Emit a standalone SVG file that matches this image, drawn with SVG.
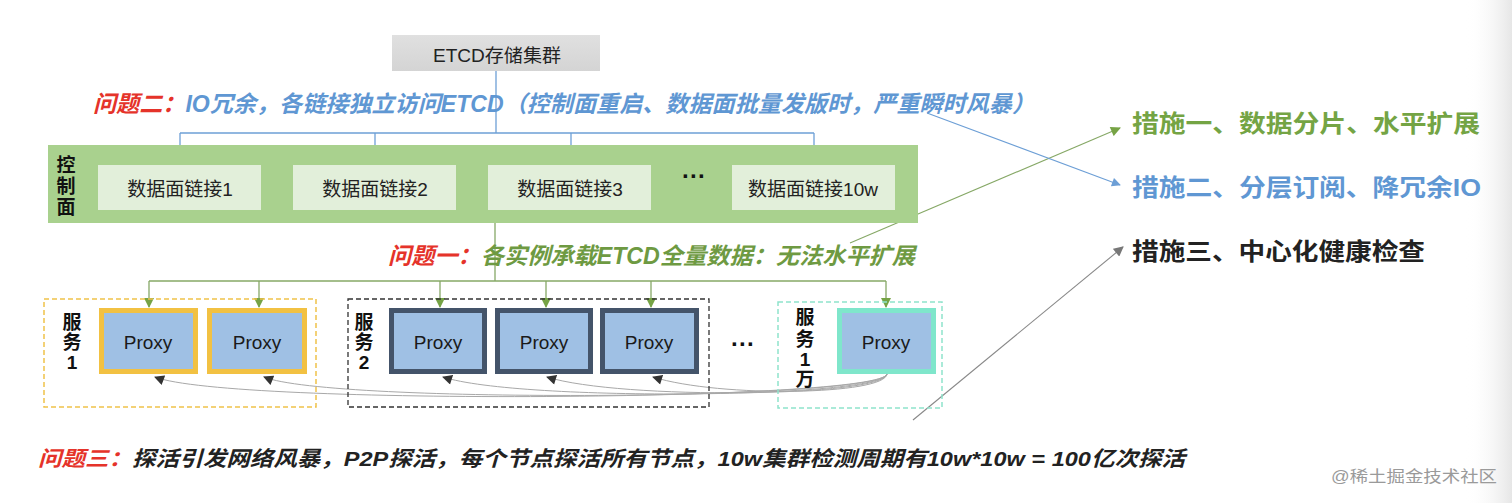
<svg xmlns="http://www.w3.org/2000/svg" width="1512" height="503" viewBox="0 0 1512 503">
<defs>
<linearGradient id="edge" x1="0" y1="0" x2="1" y2="0"><stop offset="0" stop-color="#ffffff" stop-opacity="0"/><stop offset="1" stop-color="#e6e6e6"/></linearGradient>
<linearGradient id="etcdg" x1="0" y1="0" x2="0" y2="1"><stop offset="0" stop-color="#e0e0e0"/><stop offset="1" stop-color="#d4d4d4"/></linearGradient>
<marker id="ab" viewBox="0 0 10 10" refX="9" refY="5" markerWidth="10" markerHeight="9" markerUnits="userSpaceOnUse" orient="auto"><path d="M0,0 L10,5 L0,10 z" fill="#6d9fd6"/></marker>
<marker id="ag" viewBox="0 0 10 10" refX="9" refY="5" markerWidth="11" markerHeight="10" markerUnits="userSpaceOnUse" orient="auto"><path d="M0,0 L10,5 L0,10 z" fill="#76a345"/></marker>
<marker id="agr" viewBox="0 0 10 10" refX="9" refY="5" markerWidth="11" markerHeight="10" markerUnits="userSpaceOnUse" orient="auto"><path d="M0,0 L10,5 L0,10 z" fill="#777"/></marker>
<marker id="ad" viewBox="0 0 10 10" refX="9" refY="5" markerWidth="11" markerHeight="10" markerUnits="userSpaceOnUse" orient="auto"><path d="M0,0 L10,5 L0,10 z" fill="#333"/></marker>
</defs>
<style>
.t{font-family:"Liberation Sans","Noto Sans CJK SC",sans-serif;}
.dp{fill:#e2efda;}
.dpt{font-size:19px;fill:#222;text-anchor:middle;}
.px{fill:#9fc0e4;stroke-width:5;}
.pxt{font-size:19px;fill:#1a1a1a;text-anchor:middle;}
.lbl{font-size:19px;font-weight:bold;fill:#111;text-anchor:middle;}
.q{font-size:23px;font-weight:bold;font-style:italic;}
.m{font-size:24px;font-weight:bold;}
.bl{stroke:#6d9fd6;stroke-width:1.3;fill:none;}
.gl{stroke:#86a866;stroke-width:1.3;fill:none;}
.cv{stroke:#a8a8a8;stroke-width:1;fill:none;}
</style>
<rect x="0" y="0" width="1512" height="503" fill="#ffffff"/>
<rect x="1465" y="0" width="47" height="503" fill="url(#edge)"/>

<g id="connectors">
<path class="bl" d="M496,71 V133"/>
<path class="bl" d="M180,133 H814"/>
<path class="bl" d="M180,133 V164" marker-end="url(#ab)"/>
<path class="bl" d="M375,133 V164" marker-end="url(#ab)"/>
<path class="bl" d="M571,133 V164" marker-end="url(#ab)"/>
<path class="bl" d="M814,133 V164" marker-end="url(#ab)"/>
<path class="gl" d="M495,223 V281"/>
<path class="gl" d="M149,281 H886"/>
<path class="gl" d="M149,281 V307" marker-end="url(#ag)"/>
<path class="gl" d="M259,281 V307" marker-end="url(#ag)"/>
<path class="gl" d="M440,281 V307" marker-end="url(#ag)"/>
<path class="gl" d="M546,281 V307" marker-end="url(#ag)"/>
<path class="gl" d="M651,281 V307" marker-end="url(#ag)"/>
<path class="gl" d="M886,281 V307" marker-end="url(#ag)"/>
<path class="cv" d="M887,374 C885,395 720,398 653,377" marker-end="url(#ad)"/>
<path class="cv" d="M887,374 C884,397 620,400 547,377" marker-end="url(#ad)"/>
<path class="cv" d="M887,374 C883,398 520,402 443,377" marker-end="url(#ad)"/>
<path class="cv" d="M887,374 C882,400 330,404 264,377" marker-end="url(#ad)"/>
<path class="cv" d="M887,374 C881,401 230,406 155,377" marker-end="url(#ad)"/>
<path d="M850,243 L1120,128" stroke="#86a866" stroke-width="1.1" fill="none" marker-end="url(#ag)"/>
<path d="M927,113 L1120,185" stroke="#6d9fd6" stroke-width="1.1" fill="none" marker-end="url(#ab)"/>
<path d="M913,420 L1123,247" stroke="#888" stroke-width="1.1" fill="none" marker-end="url(#agr)"/>
</g>

<g id="etcd">
<rect x="392" y="35" width="208" height="36" fill="url(#etcdg)"/>
<text class="t" x="433" y="62" font-size="18" fill="#222" textLength="128" lengthAdjust="spacingAndGlyphs">ETCD存储集群</text>
</g>

<g id="q2">
<text class="t q" x="93" y="112" textLength="942" lengthAdjust="spacingAndGlyphs"><tspan fill="#e5332a">问题二：</tspan><tspan fill="#5f97d3">IO冗余，各链接独立访问ETCD（控制面重启、数据面批量发版时，严重瞬时风暴）</tspan></text>
</g>

<g id="control-plane">
<rect x="48" y="145" width="870" height="78" fill="#a9d18e"/>
<text class="t lbl" x="66" y="172">控</text>
<text class="t lbl" x="66" y="193">制</text>
<text class="t lbl" x="66" y="214">面</text>
</g>
<g id="dp1"><rect class="dp" x="98" y="165" width="163" height="45"/><text class="t dpt" x="180" y="196">数据面链接1</text></g>
<g id="dp2"><rect class="dp" x="293" y="165" width="163" height="45"/><text class="t dpt" x="375" y="196">数据面链接2</text></g>
<g id="dp3"><rect class="dp" x="488" y="165" width="163" height="45"/><text class="t dpt" x="570" y="196">数据面链接3</text></g>
<g id="dp-dots"><text class="t" x="694" y="184" font-size="24" font-weight="bold" fill="#111" text-anchor="middle">···</text></g>
<g id="dp10w"><rect class="dp" x="732" y="165" width="163" height="45"/><text class="t dpt" x="813" y="196">数据面链接10w</text></g>

<g id="q1">
<text class="t q" x="388" y="264" textLength="527" lengthAdjust="spacingAndGlyphs"><tspan fill="#e5332a">问题一：</tspan><tspan fill="#6e9a42">各实例承载ETCD全量数据：无法水平扩展</tspan></text>
</g>

<g id="svc1">
<rect x="44" y="299" width="272" height="108" fill="none" stroke="#f0c24a" stroke-width="1.5" stroke-dasharray="5,3"/>
<text class="t lbl" x="72" y="329">服</text>
<text class="t lbl" x="72" y="349">务</text>
<text class="t lbl" x="72" y="369">1</text>
</g>
<g id="svc1-p1"><rect class="px" x="101.5" y="310.5" width="94" height="61" stroke="#f2c142"/><text class="t pxt" x="148" y="349">Proxy</text></g>
<g id="svc1-p2"><rect class="px" x="209.5" y="310.5" width="95" height="61" stroke="#f2c142"/><text class="t pxt" x="257" y="349">Proxy</text></g>

<g id="svc2">
<rect x="348" y="299" width="361" height="108" fill="none" stroke="#333" stroke-width="1.3" stroke-dasharray="5,3"/>
<text class="t lbl" x="364" y="329">服</text>
<text class="t lbl" x="364" y="349">务</text>
<text class="t lbl" x="364" y="369">2</text>
</g>
<g id="svc2-p1"><rect class="px" x="391.5" y="310.5" width="93" height="61" stroke="#44546a"/><text class="t pxt" x="438" y="349">Proxy</text></g>
<g id="svc2-p2"><rect class="px" x="497.5" y="310.5" width="93" height="61" stroke="#44546a"/><text class="t pxt" x="544" y="349">Proxy</text></g>
<g id="svc2-p3"><rect class="px" x="602.5" y="310.5" width="94" height="61" stroke="#44546a"/><text class="t pxt" x="649" y="349">Proxy</text></g>

<g id="svc-dots"><text class="t" x="743" y="352" font-size="24" font-weight="bold" fill="#111" text-anchor="middle">···</text></g>

<g id="svc10k">
<rect x="778" y="302" width="164" height="106" fill="none" stroke="#8fe3cc" stroke-width="1.5" stroke-dasharray="5,3"/>
<text class="t lbl" x="805" y="324">服</text>
<text class="t lbl" x="805" y="346">务</text>
<text class="t lbl" x="805" y="366">1</text>
<text class="t lbl" x="805" y="386">万</text>
</g>
<g id="svc10k-p1"><rect class="px" x="839.5" y="310.5" width="94" height="61" stroke="#7fe6cb"/><text class="t pxt" x="886" y="349">Proxy</text></g>

<g id="measures">
<text class="t m" x="1132" y="132" fill="#74a444" textLength="348" lengthAdjust="spacingAndGlyphs">措施一、数据分片、水平扩展</text>
<text class="t m" x="1132" y="196" fill="#5f97d3" textLength="349" lengthAdjust="spacingAndGlyphs">措施二、分层订阅、降冗余IO</text>
<text class="t m" x="1132" y="260" fill="#222" textLength="293" lengthAdjust="spacingAndGlyphs">措施三、中心化健康检查</text>
</g>

<g id="q3">
<text class="t" x="38" y="466" font-size="21" font-weight="bold" font-style="italic" textLength="1147" lengthAdjust="spacingAndGlyphs"><tspan fill="#e5332a">问题三：</tspan><tspan fill="#222">探活引发网络风暴，P2P探活，每个节点探活所有节点，10w集群检测周期有10w*10w = 100亿次探活</tspan></text>
</g>

<g id="watermark">
<text class="t" x="1331" y="482" font-size="16" fill="#9a9a9a" textLength="166" lengthAdjust="spacingAndGlyphs">@稀土掘金技术社区</text>
</g>
</svg>
